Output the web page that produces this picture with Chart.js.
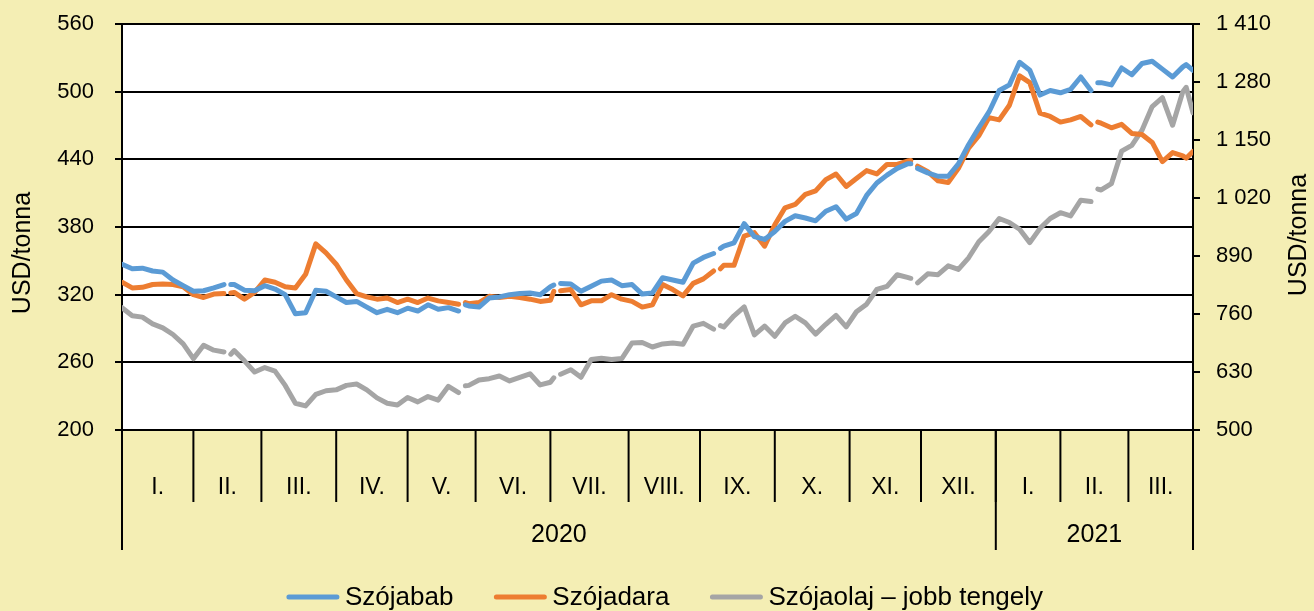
<!DOCTYPE html>
<html>
<head>
<meta charset="utf-8">
<script src="https://cdn.jsdelivr.net/npm/chart.js@4.4.1/dist/chart.umd.min.js"></script>
<style>
  html, body { margin: 0; padding: 0; background: #F4EEB4; }
  #wrap { width: 1314px; height: 611px; }
</style>
</head>
<body>
<div id="wrap"><canvas id="chart" width="1314" height="611"></canvas></div>
<script>
// trading day index of every sampled point (0 = first trading day of Jan 2020)
// a day with no quote (US holiday) is kept as null in the series so the line breaks there
const tradingDays = [
  0, 3, 6, 9, 12, 15, 18,                       // I.
  21, 24, 27, 30, 31, 32, 33, 36, 39,           // II.
  42, 45, 48, 51, 54, 57, 60,                   // III.
  63, 66, 69, 72, 75, 78, 81,                   // IV.
  84, 87, 90, 93, 96, 99, 100, 101, 102,        // V.
  105, 108, 111, 114, 117, 120, 123,            // VI.
  126, 127, 128, 129, 132, 135, 138, 141, 144, 147, // VII.
  150, 153, 156, 159, 162, 165, 168,            // VIII.
  171, 174, 175, 176, 177, 180, 183, 186, 189,  // IX.
  192, 195, 198, 201, 204, 207, 210, 213,       // X.
  216, 219, 222, 225, 228, 231, 232, 233, 234,  // XI.
  237, 240, 243, 246, 249, 252, 255,            // XII.
  258, 261, 264, 267, 270, 273,                 // 2021 I.
  276, 279, 282, 285, 286, 287, 288, 291, 294,  // 2021 II.
  297, 300, 303, 306, 309, 312, 313, 315        // 2021 III.
];

// months on the axis and how many trading days each one holds
const monthLabels = ["I.", "II.", "III.", "IV.", "V.", "VI.", "VII.", "VIII.", "IX.", "X.", "XI.", "XII.", "I.", "II.", "III."];
const monthDays = [21, 20, 22, 21, 20, 22, 23, 21, 22, 22, 21, 22, 19, 20, 19];
const yearLabels = ["2020", "2021"];
const yearMonths = [12, 3];

// USD/tonna, left axis
const soybean = [
  347, 343, 343.5, 341, 340, 333, 328,
  323, 323.5, 326, 329, null, 329, 329, 324, 323.5,
  328, 325, 320, 303, 304, 324, 323,
  318, 313, 314, 309, 304, 307, 304,
  308, 305.5, 311, 307, 308.5, 305.5, null, 311, 310,
  309, 317, 318, 320, 321, 321.5, 320,
  327, 328.5, null, 330, 329.5, 323, 327.5, 332, 333, 328,
  329, 320.5, 321.5, 335, 333, 331, 348,
  353, 356.5, null, 361, 363, 366, 383, 371.5, 369,
  376, 385, 390, 388, 385.5, 394, 398, 387,
  392, 408, 419, 426, 432, 436, 436, null, 432,
  428, 425, 425, 436, 453, 468, 482,
  501, 506, 526, 519, 497, 501,
  499, 502, 513, 501, null, 508, 508, 506, 521,
  515, 525, 527, 520, 513, 522, 524, 519
];
const soymeal = [
  331, 326, 326.5, 329, 329.5, 329, 327,
  320, 317.5, 320.5, 321, null, 321.5, 322, 316, 322,
  333, 331, 327, 326, 338, 365, 357,
  347, 333, 321, 318, 316, 317, 313,
  316, 313, 317, 314.5, 313, 311.5, null, 313, 312,
  313, 318.5, 317.5, 318.5, 317.5, 316, 314,
  315, 323, null, 323.5, 324.5, 311, 314.5, 314.5, 320, 316,
  314, 309, 311, 329, 324.5, 319, 330,
  334, 341, null, 343, 346, 346, 372, 375, 363,
  382, 397, 400, 409, 412, 422, 427, 416,
  423, 430, 427, 435.5, 435.5, 438.5, 439, null, 434,
  429, 421, 419.5, 432, 450, 461, 477,
  475, 488, 514, 508, 481, 478,
  473, 475, 478, 470.5, null, 473, 472, 468, 471,
  463, 462, 455, 438, 446, 443, 441, 447
];
// USD/tonna, right axis
const soyoil = [
  774, 756, 753, 738, 729, 714, 693,
  660, 690, 679, 675, null, 670, 678, 655, 630,
  640, 632, 600, 560, 554, 580, 588,
  590, 600, 603, 590, 572, 560, 556,
  573, 563, 575, 567, 598, 584, null, 599, 600,
  612, 615, 621, 610, 618, 626, 601,
  607, 617, null, 625, 635, 618, 658, 661, 658, 660,
  695, 696, 686, 693, 695, 692, 733,
  739, 726, null, 734, 731, 756, 776, 713, 733,
  710, 740, 755, 740, 715, 737, 757, 731,
  765, 782, 815, 822, 848, 842, 840, null, 830,
  850, 848, 868, 860, 886, 922, 945,
  974, 965, 950, 920, 952, 974,
  987, 980, 1015, 1012, null, 1040, 1038, 1052, 1125,
  1138, 1172, 1225, 1245, 1183, 1258, 1268, 1211
];

const leftTicks = [200, 260, 320, 380, 440, 500, 560];
const rightTicks = [500, 630, 760, 890, 1020, 1150, 1280, 1410];

const FONT = "'Liberation Sans', Arial, sans-serif";
const BG = "#F4EEB4";

const toPoints = (vals) => tradingDays.map((d, i) => ({ x: d, y: vals[i] }));
// 1410 -> "1 410"
const spaced = (v) => String(Math.round(v)).replace(/\B(?=(\d{3})+(?!\d))/g, " ");

function line(ctx, x0, y0, x1, y1) {
  ctx.beginPath();
  ctx.moveTo(x0, y0);
  ctx.lineTo(x1, y1);
  ctx.stroke();
}

// fixed axis boxes so the plot sits where it does in the original
function pinAxis(width) {
  return (s) => {
    s.width = width;
    s.paddingTop = 0;
    s.paddingBottom = 0;
  };
}

// background, month/year axis under the plot, axis titles and legend
const frame = {
  id: "frame",
  beforeDraw(chart) {
    const { ctx, chartArea: a } = chart;
    ctx.save();
    ctx.fillStyle = BG;
    ctx.fillRect(0, 0, chart.width, chart.height);
    ctx.fillStyle = "#ffffff";
    ctx.fillRect(a.left, a.top, a.right - a.left, a.bottom - a.top);
    ctx.restore();
  },
  afterDraw(chart) {
    const { ctx, chartArea: a } = chart;
    const x = chart.scales.x;
    ctx.save();
    ctx.strokeStyle = "#000";
    ctx.fillStyle = "#000";
    ctx.lineWidth = 2;
    ctx.textAlign = "center";
    ctx.textBaseline = "middle";

    // months
    ctx.font = "23px " + FONT;
    let start = 0;
    monthDays.forEach((n, i) => {
      const x0 = x.getPixelForValue(start);
      const x1 = x.getPixelForValue(start + n);
      line(ctx, x1, a.bottom, x1, a.bottom + 72);
      ctx.fillText(monthLabels[i], (x0 + x1) / 2, a.bottom + 58);
      start += n;
    });

    // years
    ctx.font = "25px " + FONT;
    let m = 0;
    let d0 = 0;
    line(ctx, x.getPixelForValue(0), a.bottom, x.getPixelForValue(0), a.bottom + 120);
    yearLabels.forEach((label, i) => {
      let d1 = d0;
      for (let k = 0; k < yearMonths[i]; k++) d1 += monthDays[m + k];
      m += yearMonths[i];
      const px0 = x.getPixelForValue(d0);
      const px1 = x.getPixelForValue(d1);
      line(ctx, px1, a.bottom, px1, a.bottom + 120);
      ctx.fillText(label, (px0 + px1) / 2, a.bottom + 105);
      d0 = d1;
    });

    // axis titles, both read bottom to top
    ctx.font = "25px " + FONT;
    [[23, (a.top + a.bottom) / 2 + 26], [1299, (a.top + a.bottom) / 2 + 8]].forEach(([tx, ty]) => {
      ctx.save();
      ctx.translate(tx, ty);
      ctx.rotate(-Math.PI / 2);
      ctx.fillText("USD/tonna", 0, 0);
      ctx.restore();
    });

    // legend
    ctx.font = "26px " + FONT;
    ctx.textAlign = "left";
    ctx.lineCap = "round";
    const ds = chart.data.datasets;
    const lineLen = 52, gap = 6, between = 41;
    const widths = ds.map((s) => lineLen + gap + ctx.measureText(s.label).width);
    const total = widths.reduce((s, w) => s + w, 0) + between * (ds.length - 1);
    let lx = chart.width / 2 + 8 - total / 2;
    const ly = 597;
    ds.forEach((s, i) => {
      ctx.strokeStyle = s.borderColor;
      ctx.lineWidth = 5;
      line(ctx, lx + 2, ly, lx + lineLen - 2, ly);
      ctx.fillText(s.label, lx + lineLen + gap, ly + 1);
      lx += widths[i] + between;
    });
    ctx.restore();
  }
};

const seriesStyle = {
  borderWidth: 5,
  pointRadius: 0,
  pointHoverRadius: 0,
  tension: 0,
  spanGaps: false,
  borderCapStyle: "round",
  borderJoinStyle: "round",
  fill: false
};

new Chart(document.getElementById("chart"), {
  type: "line",
  data: {
    datasets: [
      { ...seriesStyle, label: "Szójabab", data: toPoints(soybean), borderColor: "#5B9BD5", backgroundColor: "#5B9BD5", yAxisID: "y" },
      { ...seriesStyle, label: "Szójadara", data: toPoints(soymeal), borderColor: "#ED7D31", backgroundColor: "#ED7D31", yAxisID: "y" },
      { ...seriesStyle, label: "Szójaolaj – jobb tengely", data: toPoints(soyoil), borderColor: "#A5A5A5", backgroundColor: "#A5A5A5", yAxisID: "y2" }
    ]
  },
  options: {
    responsive: false,
    animation: false,
    events: [],
    layout: { padding: { top: 24, bottom: 181, left: 0, right: 0 } },
    plugins: {
      legend: { display: false },
      tooltip: { enabled: false }
    },
    scales: {
      x: {
        type: "linear",
        display: false,
        min: 0,
        max: monthDays.reduce((s, n) => s + n, 0)
      },
      y: {
        position: "left",
        min: leftTicks[0],
        max: leftTicks[leftTicks.length - 1],
        afterFit: pinAxis(122),
        afterBuildTicks: (s) => { s.ticks = leftTicks.map((v) => ({ value: v })); },
        ticks: { color: "#000", padding: 21, font: { family: FONT, size: 22 } },
        grid: { color: "#000", lineWidth: 2, tickLength: 7, drawTicks: true },
        border: { color: "#000", width: 2 }
      },
      y2: {
        position: "right",
        min: rightTicks[0],
        max: rightTicks[rightTicks.length - 1],
        afterFit: pinAxis(121),
        afterBuildTicks: (s) => { s.ticks = rightTicks.map((v) => ({ value: v })); },
        ticks: { color: "#000", padding: 16, font: { family: FONT, size: 22 }, callback: (v) => spaced(v) },
        grid: { color: "#000", lineWidth: 2, tickLength: 7, drawOnChartArea: false, drawTicks: true },
        border: { color: "#000", width: 2 }
      }
    }
  },
  plugins: [frame]
});
</script>
</body>
</html>
